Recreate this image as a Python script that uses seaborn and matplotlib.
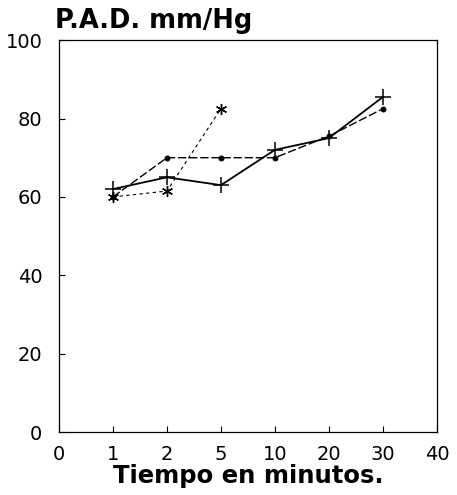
import pandas as pd
import matplotlib.pyplot as plt
import seaborn as sns

# Data
x_labels = ["0", "1", "2", "5", "10", "20", "30", "40"]

times_dot = [1, 2, 5, 10, 20, 30]
pad_dot = [60, 70, 70, 70, 75.5, 82.5]

times_plus = [1, 2, 5, 10, 20, 30]
pad_plus = [62, 65, 63, 72, 75, 85.5]

times_star = [1, 2, 5]
pad_star = [60, 61.5, 82.5]

y_ticks = [0, 20, 40, 60, 80, 100]


def to_frame(times, values):
    return pd.DataFrame({
        "pos": [x_labels.index(str(t)) for t in times],
        "pad": values,
    })


sns.set_theme(style="ticks")
plt.rcParams["font.family"] = ["DejaVu Sans"]
plt.rcParams["text.color"] = "black"

fig = plt.figure(figsize=(4.57, 4.95), dpi=100)
ax = fig.add_axes([0.129, 0.127, 0.827, 0.792])

sns.lineplot(data=to_frame(times_dot, pad_dot), x="pos", y="pad",
             ax=ax, color="black", linewidth=1.0, linestyle=(0, (6, 2)),
             marker="o", markersize=3.5, markeredgecolor="black")
sns.lineplot(data=to_frame(times_plus, pad_plus), x="pos", y="pad",
             ax=ax, color="black", linewidth=1.3,
             marker="+", markersize=12, markeredgewidth=1.1,
             markeredgecolor="black")
sns.lineplot(data=to_frame(times_star, pad_star), x="pos", y="pad",
             ax=ax, color="black", linewidth=0.8, linestyle=(0, (3, 3)),
             marker=(6, 2, 0), markersize=8, markeredgewidth=1.0,
             markeredgecolor="black")

ax.set_xlim(0, len(x_labels) - 1)
ax.set_ylim(0, 100)
ax.set_xticks(range(len(x_labels)))
ax.set_xticklabels(x_labels)
ax.set_yticks(y_ticks)
ax.tick_params(direction="in", length=4, width=0.8, labelsize=14,
               colors="black")
ax.tick_params(axis="x", pad=9)
ax.tick_params(axis="y", pad=12)
for s in ax.spines.values():
    s.set_visible(True)
    s.set_linewidth(0.9)
    s.set_color("black")

ax.set_xlabel("Tiempo en minutos.", fontsize=17.5, fontweight="bold",
              labelpad=0, color="black")
ax.set_ylabel("")
ax.text(-0.01, 1.015, "P.A.D. mm/Hg", transform=ax.transAxes,
        fontsize=18.5, fontweight="bold", ha="left", va="bottom",
        color="black")

plt.savefig("out.png", dpi=100)
